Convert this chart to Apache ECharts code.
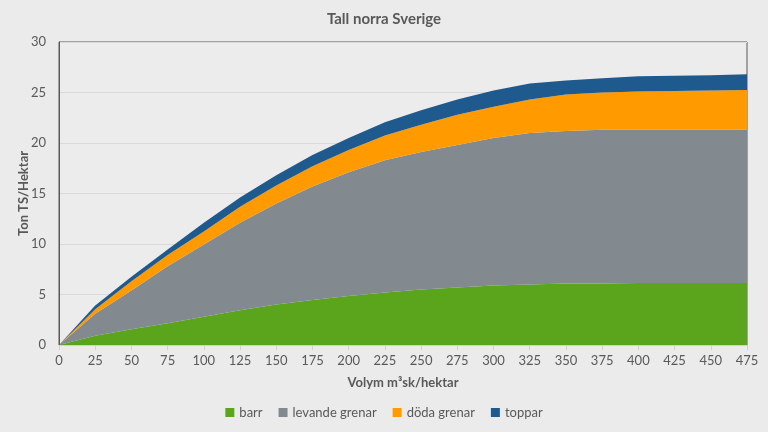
<!DOCTYPE html>
<html>
<head>
<meta charset="utf-8">
<script src="https://cdn.jsdelivr.net/npm/echarts@6/dist/echarts.min.js"></script>
<style>
html,body{margin:0;padding:0;background:#ebebeb;}
#c{width:768px;height:432px;}
</style>
</head>
<body>
<div id="c"></div>
<script>
const categories = ['0','25','50','75','100','125','150','175','200','225','250','275','300','325','350','375','400','425','450','475'];
const barr =    [0,0.92,1.55,2.15,2.8,3.45,4.0,4.45,4.85,5.2,5.5,5.7,5.9,6.0,6.1,6.1,6.15,6.15,6.15,6.15];
const levande = [0,2.18,3.85,5.65,7.15,8.65,10.0,11.25,12.25,13.1,13.6,14.1,14.6,15.0,15.1,15.2,15.15,15.15,15.15,15.15];
const doda =    [0,0.45,0.9,1.1,1.3,1.6,1.8,2.0,2.2,2.45,2.7,3.0,3.1,3.3,3.6,3.7,3.8,3.85,3.9,3.95];
const toppar =  [0,0.35,0.45,0.55,0.85,0.9,1.0,1.1,1.2,1.3,1.45,1.5,1.6,1.6,1.4,1.4,1.5,1.5,1.5,1.55];
const seriesNames = ['barr','levande grenar','döda grenar','toppar'];
const colors = ['#5aa51c','#828a8f','#ff9a00','#1f5a8e'];

const chart = echarts.init(document.getElementById('c'), null, {renderer:'canvas'});
const font = 'Lato';
const mk = (name, data, i) => ({
  name, type:'line', stack:'t', data, symbol:'none',
  lineStyle:{width:0}, areaStyle:{color:colors[i], opacity:1},
  itemStyle:{color:colors[i]}
});
chart.setOption({
  backgroundColor:'#ebebeb',
  animation:false,
  title:{text:'Tall norra Sverige', left:'center', top:7,
    textStyle:{fontFamily:font, fontSize:15, fontWeight:'bold', color:'#595959'}},
  grid:{left:59, right:21, top:42, bottom:87, outerBoundsMode:'none', containLabel:false,
    show:true, borderColor:'#595959', borderWidth:1, backgroundColor:'#ececec'},
  legend:{bottom:8, left:'center', itemWidth:9, itemHeight:9, itemGap:16, icon:'rect',
    textStyle:{fontFamily:font, fontSize:13, color:'#595959'}, data:seriesNames},
  xAxis:{type:'category', data:categories, boundaryGap:false,
    name:'Volym m³sk/hektar', nameLocation:'middle', nameGap:31, nameMoveOverlap:false,
    nameTextStyle:{fontFamily:font, fontSize:13, fontWeight:'bold', color:'#595959'},
    axisLine:{show:true, lineStyle:{color:'#d0d0d0'}},
    axisTick:{show:true, alignWithLabel:true, lineStyle:{color:'#d0d0d0'}},
    axisLabel:{fontFamily:font, fontSize:13, color:'#595959', margin:9}},
  yAxis:{type:'value', min:0, max:30, interval:5,
    name:'Ton TS/Hektar', nameLocation:'middle', nameGap:29, nameMoveOverlap:false,
    nameTextStyle:{fontFamily:font, fontSize:13, fontWeight:'bold', color:'#595959'},
    axisLine:{show:true, lineStyle:{color:'#595959'}},
    splitLine:{lineStyle:{color:'#dadada'}},
    axisLabel:{fontFamily:font, fontSize:13, color:'#595959', margin:13}},
  series:[mk(seriesNames[0],barr,0), mk(seriesNames[1],levande,1), mk(seriesNames[2],doda,2), mk(seriesNames[3],toppar,3)]
});
</script>
</body>
</html>
